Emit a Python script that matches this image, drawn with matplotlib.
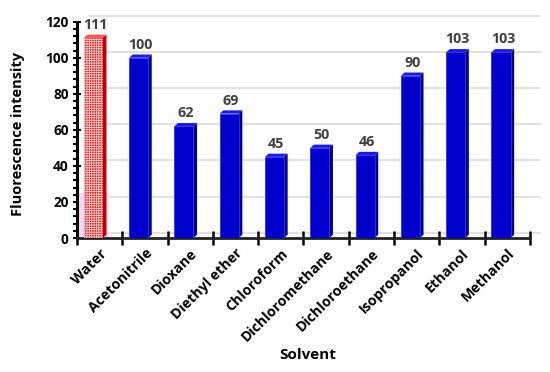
import matplotlib.pyplot as plt
from matplotlib.patches import Polygon, Rectangle
from matplotlib.ticker import MultipleLocator

solvents = ['Water', 'Acetonitrile', 'Dioxane', 'Diethyl ether', 'Chloroform',
            'Dichloromethane', 'Dichloroethane', 'Isopropanol', 'Ethanol', 'Methanol']
intensity = [111, 100, 62, 69, 45, 50, 46, 90, 103, 103]

plt.rcParams['font.family'] = ['Open Sans', 'DejaVu Sans']
plt.rcParams['hatch.linewidth'] = 0.5

fig = plt.figure(figsize=(5.5, 3.72), dpi=100)
ax = fig.add_axes([0.14, 0.3602, 0.8236, 0.5815])
ax.set_xlim(-0.5, 9.5)
ax.set_ylim(0, 120)

# back wall gridlines (shifted for the 3D look)
gdx, gdy = 0.22, 3.0
for v in range(0, 121, 20):
    ax.plot([-0.45 + gdx, 9.5 + gdx], [v + gdy, v + gdy], color='#dcdcdc',
            lw=1.2, zorder=0, clip_on=False)

shift = -0.14
w = 0.42
ddx, ddy = 0.08, 1.8


def bar3d(x, h, front, side, top, hatch=None):
    x0, x1 = x - w / 2, x + w / 2
    ax.add_patch(Polygon([(x1, 0), (x1 + ddx, ddy), (x1 + ddx, h + ddy), (x1, h)],
                         closed=True, facecolor=side, edgecolor='none', zorder=3))
    ax.add_patch(Polygon([(x0, h), (x0 + ddx, h + ddy), (x1 + ddx, h + ddy), (x1, h)],
                         closed=True, facecolor=top, edgecolor='none', zorder=3))
    if hatch:
        ax.add_patch(Rectangle((x0, 0), w, h, facecolor=front, edgecolor='#ffe0e0',
                               hatch=hatch, lw=0, zorder=3))
    else:
        ax.add_patch(Rectangle((x0, 0), w, h, facecolor=front, edgecolor='#3030ff',
                               lw=0.6, zorder=3))


for i, (name, val) in enumerate(zip(solvents, intensity)):
    x = i + shift
    if i == 0:
        ax.add_patch(Rectangle((x - 0.38, 0), 0.7, 25, facecolor='#ffd6f5',
                               edgecolor='none', zorder=2))
        bar3d(x, val, '#ff1a1a', '#c00000', '#ff5050', hatch='+++++++')
    else:
        bar3d(x, val, '#0000cc', '#00008a', '#1a1ae6')
    ax.text(x + ddx / 2, val + ddy + 1.5, str(val), ha='center', va='bottom',
            fontsize=10.3, fontweight='bold', color='#404040', zorder=4)

for s in ['top', 'right']:
    ax.spines[s].set_visible(False)
ax.spines['left'].set_linewidth(2.2)
ax.spines['bottom'].set_linewidth(2.0)
ax.spines['bottom'].set_color('#222222')

ax.yaxis.set_major_locator(MultipleLocator(20))
ax.yaxis.set_minor_locator(MultipleLocator(4))
ax.tick_params(axis='y', which='major', direction='inout', length=6, width=1.5,
               labelsize=9.8, pad=3)
ax.tick_params(axis='y', which='minor', direction='out', length=3, width=1.5)
for lab in ax.get_yticklabels():
    lab.set_fontweight('bold')

# ticks on category boundaries, labels at category centres
ax.set_xticks([i - 0.5 for i in range(11)])
ax.set_xticklabels([])
ax.tick_params(axis='x', which='major', direction='inout', length=10, width=1.8)
ax.set_xticks(range(10), minor=True)
ax.set_xticklabels(solvents, minor=True, rotation=45, ha='right',
                   rotation_mode='anchor', fontsize=10.2, fontweight='bold')
ax.tick_params(axis='x', which='minor', length=0, pad=6)

ax.set_ylabel('Fluorescence intensity', fontsize=10.5, fontweight='bold')
ax.yaxis.set_label_coords(-0.115, 0.48)
fig.text(0.56, 0.045, 'Solvent', ha='center', va='center', fontsize=11,
         fontweight='bold')

fig.savefig('out.png', dpi=100)
